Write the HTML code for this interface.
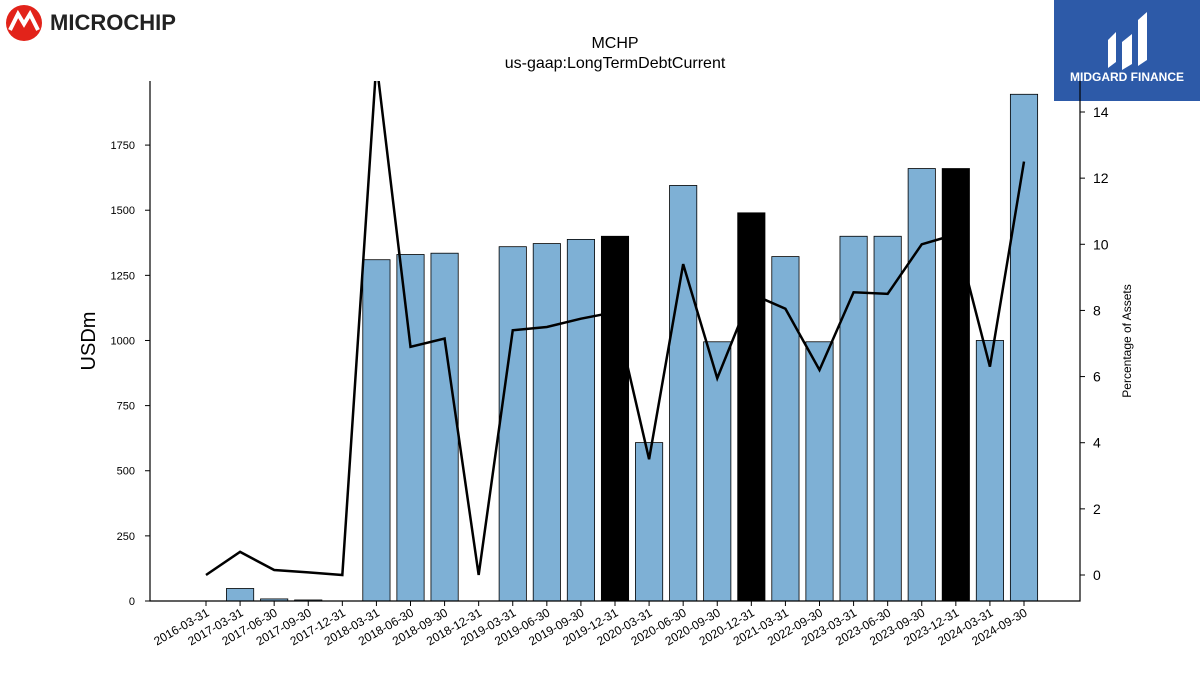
<!DOCTYPE html>
<html><head><meta charset="utf-8"><style>
body{margin:0;background:#fff;font-family:"Liberation Sans",sans-serif}
svg text{font-family:"Liberation Sans",sans-serif}
</style></head><body>
<svg id="c" width="1200" height="675" viewBox="0 0 1200 675" xmlns="http://www.w3.org/2000/svg">
<g>
<circle cx="24" cy="23" r="18" fill="#e2231a"/>
<path d="M10 30 L18 14 L24 24 L30 14 L38 30" stroke="#fff" stroke-width="4" fill="none"/>
<text x="50" y="30" font-size="22" font-weight="bold" fill="#222">MICROCHIP</text>
</g>
<g>
<rect x="1054" y="0" width="146" height="101" fill="#2d5aa8"/>
<path d="M1108 68 L1108 40 L1116 32 L1116 62 Z M1122 70 L1122 42 L1132 34 L1132 64 Z M1138 66 L1138 20 L1147 12 L1147 60 Z" fill="#fff"/>
<text x="1127" y="81" font-size="12" font-weight="bold" fill="#fff" text-anchor="middle">MIDGARD FINANCE</text>
</g>
<text x="615" y="48" font-size="16" text-anchor="middle">MCHP</text>
<text x="615" y="68" font-size="16" text-anchor="middle">us-gaap:LongTermDebtCurrent</text>
<text transform="translate(95,341) rotate(-90)" font-size="20" text-anchor="middle">USDm</text>
<text transform="translate(1131,341) rotate(-90)" font-size="12" text-anchor="middle">Percentage of Assets</text>
<g id="plot"></g>
</svg>
<script>
const categories=["2016-03-31","2017-03-31","2017-06-30","2017-09-30","2017-12-31","2018-03-31","2018-06-30","2018-09-30","2018-12-31","2019-03-31","2019-06-30","2019-09-30","2019-12-31","2020-03-31","2020-06-30","2020-09-30","2020-12-31","2021-03-31","2022-09-30","2023-03-31","2023-06-30","2023-09-30","2023-12-31","2024-03-31","2024-09-30"];
const debtValues=[0,48,8,4,0,1310,1330,1335,0,1360,1372,1388,1400,608,1595,995,1490,1322,995,1400,1400,1660,1660,1000,1945];
const highlighted=[0,0,0,0,0,0,0,0,0,0,0,0,1,0,0,0,1,0,0,0,0,0,1,0,0];
const pctValues=[0,0.7,0.15,0.08,0,15.5,6.9,7.15,0,7.4,7.5,7.75,7.95,3.5,9.4,5.95,8.5,8.05,6.2,8.55,8.5,10.0,10.3,6.3,12.5];
const leftTicks=[0,250,500,750,1000,1250,1500,1750];
const rightTicks=[0,2,4,6,8,10,12,14];
const NS="http://www.w3.org/2000/svg";
const L=150,R=1080,T=81,B=601;
const n=categories.length;
const x0=206,step=(1024-206)/(n-2);
// note: 25 categories listed; fit to plot
const stp=(1024-206)/(n-1);
const xs=i=>x0+i*stp;
const yL=v=>B-v/1996*(B-T);
const yR=v=>575-v*(575-112)/14;
const g=document.getElementById('plot');
function el(t,a){const e=document.createElementNS(NS,t);for(const k in a)e.setAttribute(k,a[k]);g.appendChild(e);return e;}
const cp=document.createElementNS(NS,'clipPath');cp.id='clip';const cr=document.createElementNS(NS,'rect');
cr.setAttribute('x',L);cr.setAttribute('y',T);cr.setAttribute('width',R-L);cr.setAttribute('height',B-T);cp.appendChild(cr);g.appendChild(cp);
const bw=stp*0.8;
function bar(i){const e=el('rect',{x:xs(i)-bw/2,y:yL(debtValues[i]),width:bw,height:B-yL(debtValues[i]),fill:highlighted[i]?'#000':'#7eb0d5',stroke:'#000','stroke-width':0.8});
}
for(let i=0;i<n;i++)if(!highlighted[i])bar(i);
const line=el('polyline',{points:pctValues.map((v,i)=>xs(i)+','+yR(v)).join(' '),fill:'none',stroke:'#000','stroke-width':2.5,'clip-path':'url(#clip)'});

for(let i=0;i<n;i++)if(highlighted[i])bar(i);
const ax=el('path',{d:`M${L} ${T}V${B}H${R}V${T}`,fill:'none',stroke:'#000','stroke-width':1.2});

leftTicks.forEach(v=>{const y=yL(v);el('line',{x1:L-5,x2:L,y1:y,y2:y,stroke:'#000'});
const t=el('text',{x:L-15,y:y+4,'font-size':11,'text-anchor':'end'});t.textContent=v;
});
rightTicks.forEach(v=>{const y=yR(v);el('line',{x1:R,x2:R+5,y1:y,y2:y,stroke:'#000'});
const t=el('text',{x:R+13,y:y+5,'font-size':14});t.textContent=v;
});
categories.forEach((c,i)=>{const x=xs(i);el('line',{x1:x,x2:x,y1:B,y2:B+5,stroke:'#000'});
const t=el('text',{x:x+4,y:B+14,'font-size':12,'text-anchor':'end',transform:`rotate(-30 ${x+4} ${B+14})`});t.textContent=c;
});
</script>
</body></html>
